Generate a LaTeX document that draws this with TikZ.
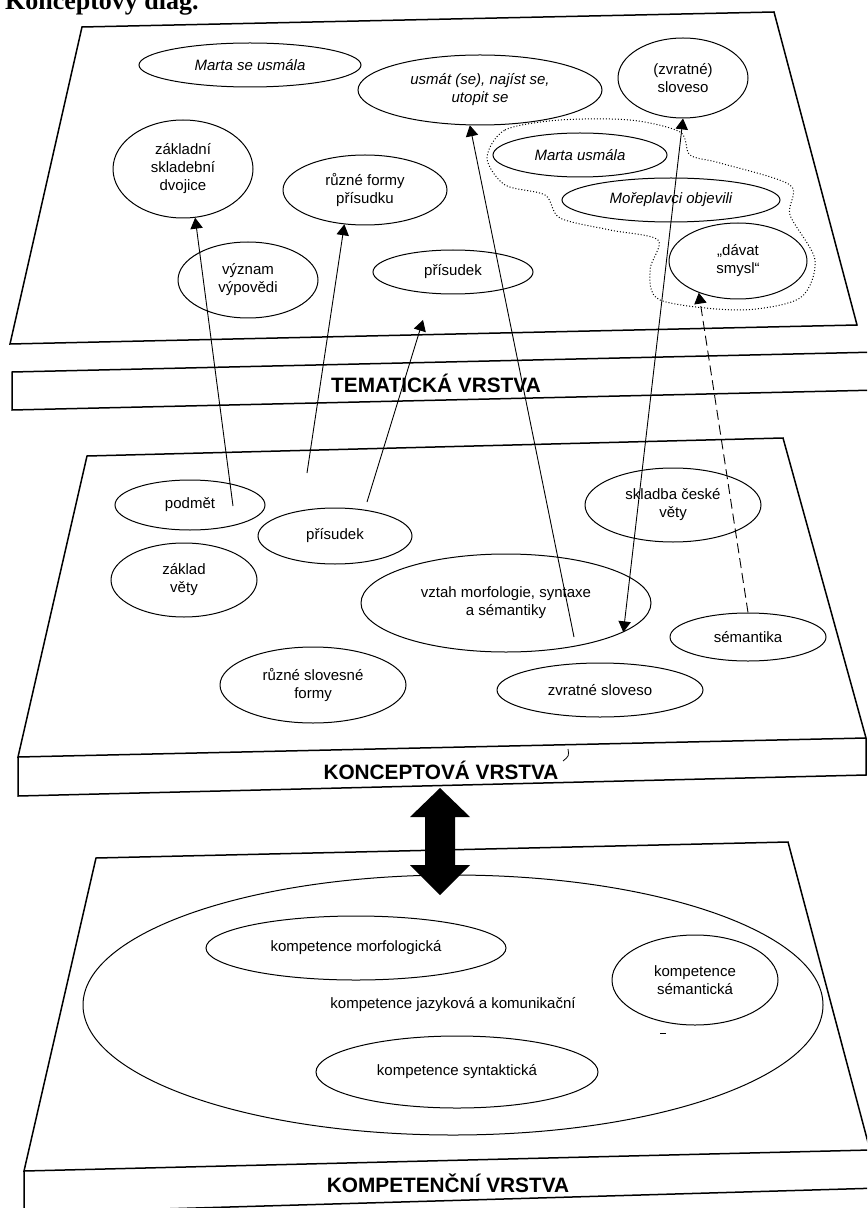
\documentclass[tikz,border=0pt]{standalone}
\usepackage{fontspec}
\setmainfont{Liberation Sans}
\newfontfamily\serifbold{Liberation Serif}
\usepackage{tikz}
\usetikzlibrary{arrows,shapes}

\begin{document}
\begin{tikzpicture}[x=0.5pt,y=-0.5pt,
    every node/.style={font=\fontsize{7.5}{9}\selectfont},
    oval/.style={ellipse,draw,line width=0.5pt,inner sep=0pt,align=center},
    kurziva/.style={font=\fontsize{7.5}{9}\selectfont\itshape},
    vrstva/.style={anchor=base,font=\fontsize{10.4}{12}\selectfont\bfseries},
    deska/.style={line width=0.75pt}]
 \useasboundingbox (0,0) rectangle (867,1208);
 \clip (0,0) rectangle (867,1208);

 %the heading, cut off at the top
    \node[anchor=base west,font=\serifbold\bfseries\fontsize{13}{15}\selectfont] (nadpis) at (-2,10) {Konceptový diag.};

 %the layers
    \draw[deska] (82,27) -- (774,12) -- (857,325) -- (10,344) -- cycle;
    \draw[deska] (880,352) -- (12,372) -- (12,410) -- (880,390);
    \draw[deska] (87,456) -- (783,438) -- (866,738) -- (18,757) -- cycle;
    \draw[deska] (18,757) -- (18,796) -- (866,775) -- (866,738);
    \draw[deska] (96,858) -- (788,842) -- (870,1150) -- (24,1171) -- cycle;
    \draw[deska] (870,1150) -- (880,1150);
    \draw[deska] (24,1171) -- (24,1213) -- (880,1188);
    \node[vrstva] (tema) at (436,392) {TEMATICKÁ VRSTVA};
    \node[vrstva] (konc) at (441,779) {KONCEPTOVÁ VRSTVA};
    \node[vrstva] (komp) at (448,1192) {KOMPETENČNÍ VRSTVA};
    \draw[line width=0.4pt] (568,749) .. controls (569,756) .. (563,761);

 %the thematic ellipses
    \node[oval,kurziva,minimum width=111pt,minimum height=22pt] (marta) at (250,65) {Marta se usmála};
    \node[oval,kurziva,minimum width=122pt,minimum height=35pt] (usmat) at (480,90) {usmát (se), najíst se,\\ utopit se};
    \node[oval,minimum width=65pt,minimum height=40pt] (zvratne) at (683,78) {(zvratné)\\ sloveso};
    \node[oval,minimum width=70pt,minimum height=49pt] (zakladni) at (183,169) {základní\\ skladební\\ dvojice};
    \node[oval,minimum width=82pt,minimum height=35pt] (formy) at (365,190) {různé formy\\ přísudku};
    \node[oval,minimum width=70pt,minimum height=38pt] (vyznam) at (248,280) {význam\\ výpovědi};
    \node[oval,minimum width=80pt,minimum height=22pt] (prisudekT) at (453,272) {přísudek};
    \node[oval,kurziva,minimum width=87pt,minimum height=22pt] (martaB) at (580,155) {Marta usmála};
    \node[oval,kurziva,minimum width=109pt,minimum height=22pt] (more) at (671,200) {Mořeplavci objevili};
    \node[oval,minimum width=69pt,minimum height=38pt] (davat) at (738,261) {„dávat\\ smysl“};
    \draw[densely dotted,line width=0.5pt] plot[smooth cycle] coordinates {(487,158) (505,130) (560,120) (630,120) (680,132) (690,155) (720,163) (790,185) (790,215) (815,260) (800,298) (740,310) (660,300) (650,270) (658,240) (610,230) (560,218) (545,195) (505,185)};

 %the concept ellipses
    \node[oval,minimum width=75pt,minimum height=25pt] (podmet) at (190,505) {podmět};
    \node[oval,minimum width=77pt,minimum height=28pt] (prisudekK) at (335,536) {přísudek};
    \node[oval,minimum width=73pt,minimum height=37pt] (zaklad) at (184,580) {základ\\ věty};
    \node[oval,minimum width=145pt,minimum height=49pt] (vztah) at (506,603) {vztah morfologie, syntaxe\\ a sémantiky};
    \node[oval,minimum width=88pt,minimum height=37pt] (skladba) at (673,505) {skladba české\\ věty};
    \node[oval,minimum width=78pt,minimum height=24pt] (semantika) at (748,637) {sémantika};
    \node[oval,minimum width=93pt,minimum height=38pt] (slovesne) at (313,685) {různé slovesné\\ formy};
    \node[oval,minimum width=103pt,minimum height=27pt] (zvratneK) at (600,690) {zvratné sloveso};

 %the competence ellipses
    \node[oval,minimum width=370pt,minimum height=130pt] (jazykova) at (453,1005) {kompetence jazyková a komunikační};
    \node[oval,minimum width=150pt,minimum height=32pt] (morfo) at (356,948) {kompetence morfologická};
    \node[oval,minimum width=141pt,minimum height=36pt] (syntax) at (457,1072) {kompetence syntaktická};
    \node[oval,minimum width=83pt,minimum height=45pt] (seman) at (695,980) {kompetence\\ sémantická};
    \draw[line width=0.4pt] (660,1033) -- (666,1033);

 %the link between the layers
    \coordinate (spoj) at (440,841.5);
    \fill (spoj) ++(0,-53.5) -- ++(30,29) -- ++(-15,0) -- ++(0,48) -- ++(15,0) -- ++(-30,30)
        -- ++(-30,-30) -- ++(15,0) -- ++(0,-48) -- ++(-15,0) -- cycle;

 %the arrows
    \coordinate (a1) at (233,506);
    \coordinate (a2) at (307,473);
    \coordinate (a3) at (367,502);
    \coordinate (a3e) at (423,320);
    \coordinate (a4) at (574,637);
    \begin{scope}[line width=0.45pt,every path/.style={-triangle 60}]
       \draw (a1) -- (zakladni.284);
       \draw (a2) -- (formy.239);
       \draw (a3) -- (a3e);
       \draw (a4) -- (usmat.254);
       \draw[triangle 60-triangle 60] (vztah.346) -- (zvratne.south);
       \draw[dash pattern=on 5pt off 2.5pt] (semantika.north) -- (davat.219);
    \end{scope}
\end{tikzpicture}
\end{document}
